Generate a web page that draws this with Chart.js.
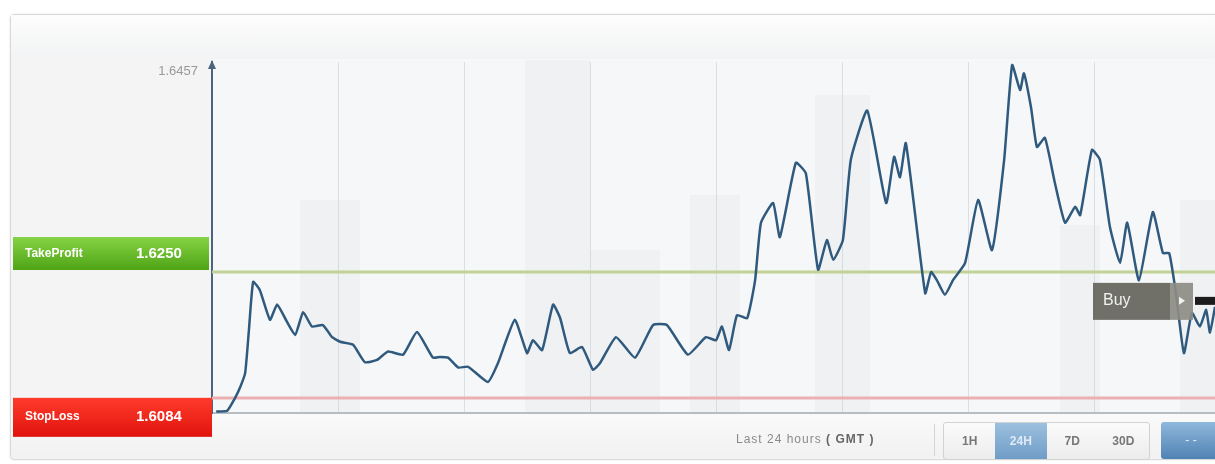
<!DOCTYPE html>
<html>
<head>
<meta charset="utf-8">
<script src="https://cdn.jsdelivr.net/npm/chart.js@4.4.0/dist/chart.umd.min.js"></script>
<style>
html, body { margin:0; padding:0; background:#fff; width:1215px; height:464px; overflow:hidden; font-family:"Liberation Sans", Arial, sans-serif; }
#card { position:absolute; left:10px; top:14px; width:1220px; height:444px; border:1px solid #d8d8d8; border-radius:4px; background:#f6f7f8; box-shadow:0 0 3px rgba(0,0,0,0.08); }
#head { position:absolute; left:11px; top:15px; width:1210px; height:44px; background:linear-gradient(#fdfdfd,#f2f3f4); }
#side { position:absolute; left:11px; top:59px; width:201px; height:354px; background:#f4f4f4; }
#foot { position:absolute; left:11px; top:414px; width:1210px; height:44px; background:linear-gradient(#fafafa,#f1f1f1); }
#wrap { position:absolute; left:0; top:0; width:1215px; height:464px; }
#range { position:absolute; left:736px; top:432px; font-size:12px; letter-spacing:1px; color:#8a8a8a; }
#range b { color:#666; }
#sep { position:absolute; left:934px; top:424px; width:1px; height:32px; background:#d4d4d4; }
#btns { position:absolute; left:943px; top:422px; width:205px; height:36px; border:1px solid #d2d2d2; border-radius:3px; background:linear-gradient(#fbfbfb,#ececec); display:flex; }
#btns span { flex:1; text-align:center; line-height:36px; font-size:12px; font-weight:bold; color:#777; }
#btns span.on { background:linear-gradient(#9cc0de,#6f9cc6); color:#dfeaf4; }
#zoomBtn { position:absolute; left:1161px; top:422px; width:60px; height:37px; border-radius:3px; background:linear-gradient(#8fb8dc,#4f82b4); color:#e6f0f8; font-size:12px; text-align:center; line-height:37px; }
</style>
</head>
<body>
<div id="card"></div>
<div id="head"></div>
<div id="side"></div>
<div id="foot"></div>
<div id="wrap"><canvas id="chart" width="1215" height="464"></canvas></div>
<div id="range">Last 24 hours <b>( GMT )</b></div>
<div id="sep"></div>
<div id="btns"><span>1H</span><span class="on">24H</span><span>7D</span><span>30D</span></div>
<div id="zoomBtn">- -</div>
<script>
// hours into the last 24h window, and the price at each point
const hours = [0.10,0.36,0.55,0.67,0.79,0.88,0.98,1.14,1.38,1.55,1.74,1.98,2.17,2.38,2.64,2.86,3.05,3.36,3.64,3.93,
  4.19,4.55,4.88,5.26,5.43,5.62,5.86,6.10,6.57,6.81,7.21,7.50,7.64,7.86,8.12,8.29,8.52,8.81,9.07,9.24,
  9.62,10.07,10.50,10.83,11.33,11.76,12.00,12.14,12.31,12.50,12.74,12.93,13.07,13.36,13.52,13.90,14.14,14.43,14.64,14.79,
  15.02,15.21,15.60,16.05,16.24,16.38,16.52,16.98,17.12,17.26,17.45,17.64,17.93,18.24,18.57,18.86,19.05,19.24,19.33,19.50,
  19.64,19.83,20.07,20.31,20.55,20.67,20.95,21.14,21.38,21.62,21.79,22.07,22.40,22.64,22.79,22.95,23.14,23.33,23.52,23.67,
  23.76,23.88];
const prices = [1.6066,1.6067,1.6084,1.6098,1.6117,1.6174,1.6237,1.6226,1.6187,1.6207,1.6189,1.6167,1.6197,1.6178,1.6180,1.6164,1.6158,1.6154,1.6131,1.6134,
  1.6145,1.6141,1.6171,1.6137,1.6138,1.6137,1.6124,1.6125,1.6105,1.6130,1.6187,1.6143,1.6160,1.6147,1.6207,1.6189,1.6143,1.6151,1.6121,1.6130,
  1.6164,1.6137,1.6180,1.6180,1.6141,1.6164,1.6160,1.6178,1.6147,1.6193,1.6189,1.6239,1.6315,1.6341,1.6296,1.6394,1.6380,1.6253,1.6292,1.6266,
  1.6292,1.6398,1.6463,1.6341,1.6402,1.6375,1.6420,1.6222,1.6250,1.6239,1.6220,1.6239,1.6262,1.6345,1.6279,1.6398,1.6523,1.6490,1.6512,1.6467,
  1.6415,1.6427,1.6367,1.6315,1.6336,1.6325,1.6411,1.6398,1.6309,1.6262,1.6315,1.6239,1.6329,1.6275,1.6275,1.6222,1.6143,1.6196,1.6178,1.6200,
  1.6170,1.6204];

const takeProfit = 1.6250;
const stopLoss = 1.6084;
const yTickValues = [1.6514];
const yTickLabels = ["1.6457"];
const takeProfitLabel = "TakeProfit";
const stopLossLabel = "StopLoss";
const buyLabel = "Buy";

const points = hours.map((h, i) => ({ x: h, y: prices[i] }));

const decor = {
    id: "decor",
    beforeDatasetsDraw(chart) {
        const { ctx, chartArea: a, scales: { y } } = chart;
        ctx.save();
        // faint city background
        ctx.fillStyle = "rgba(180,188,198,0.09)";
        [[525, 60, 65], [815, 95, 55], [690, 195, 50], [590, 250, 70], [1060, 225, 40], [1180, 200, 40], [300, 200, 60]]
            .forEach(b => ctx.fillRect(b[0], b[1], b[2], a.bottom - b[1]));
        // target lines
        ctx.lineWidth = 3;
        ctx.strokeStyle = "#c2d296";
        const tp = Math.round(y.getPixelForValue(takeProfit));
        ctx.beginPath(); ctx.moveTo(a.left, tp); ctx.lineTo(a.right, tp); ctx.stroke();
        ctx.strokeStyle = "#ecb0b2";
        const sl = Math.round(y.getPixelForValue(stopLoss));
        ctx.beginPath(); ctx.moveTo(a.left, sl); ctx.lineTo(a.right, sl); ctx.stroke();
        ctx.restore();
    },
    afterDraw(chart) {
        const { ctx, chartArea: a, scales: { y } } = chart;
        ctx.save();
        // axis arrow
        ctx.fillStyle = "#4b6580";
        ctx.beginPath();
        ctx.moveTo(a.left, a.top - 2); ctx.lineTo(a.left - 4, a.top + 7); ctx.lineTo(a.left + 4, a.top + 7);
        ctx.closePath(); ctx.fill();

        const tp = y.getPixelForValue(takeProfit);
        const sl = y.getPixelForValue(stopLoss);
        let g = ctx.createLinearGradient(0, tp - 35, 0, tp - 2);
        g.addColorStop(0, "#86d346"); g.addColorStop(1, "#4ea414");
        ctx.fillStyle = g;
        ctx.fillRect(13, tp - 35, a.left - 16, 33);
        g = ctx.createLinearGradient(0, sl, 0, sl + 39);
        g.addColorStop(0, "#ff3b2c"); g.addColorStop(1, "#e0130c");
        ctx.fillStyle = g;
        ctx.fillRect(13, sl, a.left - 13, 39);

        ctx.fillStyle = "#fff";
        ctx.textBaseline = "middle";
        ctx.font = "bold 12px 'Liberation Sans', Arial";
        ctx.fillText(takeProfitLabel, 25, tp - 18);
        ctx.fillText(stopLossLabel, 25, sl + 19);
        ctx.font = "bold 15px 'Liberation Sans', Arial";
        ctx.fillText(takeProfit.toFixed(4), 136, tp - 18);
        ctx.fillText(stopLoss.toFixed(4), 136, sl + 19);

        // buy tag at the last price
        const last = y.getPixelForValue(prices[prices.length - 1]);
        const bx = a.right - 122;
        ctx.fillStyle = "rgba(100,100,92,0.92)";
        ctx.fillRect(bx, last - 24, 77, 37);
        ctx.fillStyle = "rgba(140,140,132,0.92)";
        ctx.fillRect(bx + 77, last - 24, 23, 37);
        ctx.fillStyle = "#f2f2ee";
        ctx.font = "16px 'Liberation Sans', Arial";
        ctx.fillText(buyLabel, bx + 10, last - 6);
        ctx.beginPath();
        ctx.moveTo(bx + 86, last - 10); ctx.lineTo(bx + 86, last - 2); ctx.lineTo(bx + 92, last - 6);
        ctx.closePath(); ctx.fill();
        ctx.fillStyle = "#1c1c1c";
        ctx.fillRect(bx + 102, last - 10, 20, 8);
        ctx.restore();
    }
};

new Chart(document.getElementById("chart"), {
    type: "line",
    data: {
        datasets: [{
            data: points,
            borderColor: "#2f5a7e",
            borderWidth: 2.5,
            pointRadius: 0,
            tension: 0.15,
            fill: false
        }]
    },
    options: {
        responsive: false,
        animation: false,
        devicePixelRatio: 1,
        layout: { padding: { top: 62, bottom: 51, left: 0, right: 0 } },
        plugins: { legend: { display: false }, tooltip: { enabled: false } },
        scales: {
            x: {
                type: "linear",
                min: 0,
                max: 23.88,
                ticks: { display: false, stepSize: 3 },
                grid: { color: "rgba(205,212,220,0.7)", lineWidth: 1, drawTicks: false },
                border: { display: true, color: "#b7bdc4", width: 2 },
                afterFit: s => { s.height = 0; }
            },
            y: {
                min: 1.6064,
                max: 1.6527,
                afterBuildTicks: s => { s.ticks = yTickValues.map(v => ({ value: v })); },
                ticks: {
                    padding: 14,
                    color: "#999",
                    font: { size: 13, family: "'Liberation Sans', Arial" },
                    callback: (v, i) => yTickLabels[i]
                },
                grid: { display: false, drawTicks: false },
                border: { display: true, color: "#4b6580", width: 2 },
                afterFit: s => { s.width = 212; }
            }
        }
    },
    plugins: [decor]
});
</script>
</body>
</html>
